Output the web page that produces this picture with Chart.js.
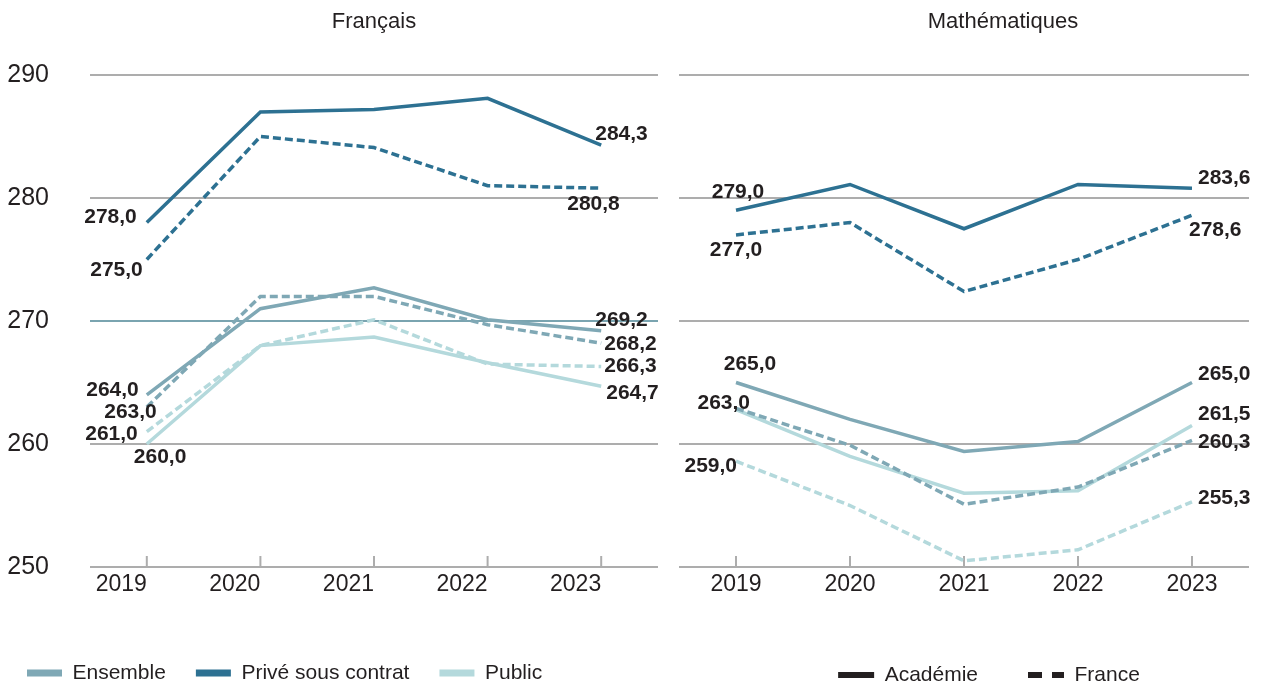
<!DOCTYPE html>
<html><head><meta charset="utf-8">
<script src="https://cdn.jsdelivr.net/npm/chart.js@4.4.1/dist/chart.umd.min.js"></script>
<style>
html,body{margin:0;padding:0;background:#fff;overflow:hidden;}
#wrap{position:relative;width:1263px;height:688px;}
#b1{position:absolute;left:0;top:0;width:660px;height:688px;}
#b2{position:absolute;left:660px;top:0;width:603px;height:688px;}
</style></head><body>
<div id="wrap"><div id="b1"><canvas id="c1"></canvas></div><div id="b2"><canvas id="c2"></canvas></div></div>
<script>
// ---- data ----
const years = ['2019', '2020', '2021', '2022', '2023'];
const panelTitles = ['Français', 'Mathématiques'];
const seriesNames = ['Ensemble', 'Privé sous contrat', 'Public'];
const levelNames = ['Académie', 'France'];

// Français
const frEnsembleAcad   = [264.0, 271.0, 272.7, 270.1, 269.2];
const frEnsembleFrance = [263.0, 272.0, 272.0, 269.7, 268.2];
const frPriveAcad      = [278.0, 287.0, 287.2, 288.1, 284.3];
const frPriveFrance    = [275.0, 285.0, 284.1, 281.0, 280.8];
const frPublicAcad     = [260.0, 268.0, 268.7, 266.6, 264.7];
const frPublicFrance   = [261.0, 268.0, 270.1, 266.5, 266.3];
// Mathématiques
const maEnsembleAcad   = [265.0, 262.0, 259.4, 260.2, 265.0];
const maEnsembleFrance = [262.9, 259.9, 255.1, 256.5, 260.3];
const maPriveAcad      = [279.0, 281.1, 277.5, 281.1, 280.8];
const maPriveFrance    = [277.0, 278.0, 272.4, 275.0, 278.6];
const maPublicAcad     = [262.8, 259.0, 256.0, 256.2, 261.5];
const maPublicFrance   = [258.6, 255.0, 250.5, 251.4, 255.3];

// value labels shown at first / last year
const frEnsembleAcadText   = ['264,0', '269,2'];
const frEnsembleFranceText = ['263,0', '268,2'];
const frPriveAcadText      = ['278,0', '284,3'];
const frPriveFranceText    = ['275,0', '280,8'];
const frPublicAcadText     = ['260,0', '264,7'];
const frPublicFranceText   = ['261,0', '266,3'];
const maEnsembleAcadText   = ['265,0', '265,0'];
const maEnsembleFranceText = ['263,0', '260,3'];
const maPriveAcadText      = ['279,0', '283,6'];
const maPriveFranceText    = ['277,0', '278,6'];
const maPublicAcadText     = [null, '261,5'];
const maPublicFranceText   = ['259,0', '255,3'];

// ---- styles ----
const FONT = '"Liberation Sans", Arial, sans-serif';
const TEXT = '#231f20';
const GRID = '#adadad';
const GRID_HI = '#7aa4b0';
const colEnsemble = '#7fa8b5';
const colPrive = '#2d7192';
const colPublic = '#b4d9dc';
const seriesColors = [colEnsemble, colPrive, colPublic];
const DASH = [8, 4];
Chart.defaults.font.family = FONT;
Chart.defaults.color = TEXT;

function ds(label, data, color, dashed, texts) {
  return { label, data, borderColor: color, backgroundColor: color, borderWidth: 3.5,
    borderDash: dashed ? DASH : [], borderCapStyle: 'butt', pointRadius: 0, tension: 0,
    fill: false, endTexts: texts };
}

const valueLabels = {
  id: 'valueLabels',
  afterDatasetsDraw(chart, args, opts) {
    const ctx = chart.ctx;
    ctx.save();
    ctx.font = 'bold 21px ' + FONT;
    ctx.fillStyle = TEXT;
    ctx.textBaseline = 'middle';
    chart.data.datasets.forEach((d, di) => {
      const meta = chart.getDatasetMeta(di);
      const idx = [0, meta.data.length - 1];
      idx.forEach((pi, k) => {
        const t = d.endTexts[k];
        const l = opts.place[di][k];
        if (!t || !l) return;
        const p = meta.data[pi];
        ctx.textAlign = l[0];
        ctx.fillText(t, p.x + l[1], p.y + l[2]);
      });
    });
    ctx.restore();
  }
};

const xTickMarks = {
  id: 'xTickMarks',
  beforeDatasetsDraw(chart) {
    const sx = chart.scales.x, a = chart.chartArea, ctx = chart.ctx;
    ctx.save();
    ctx.strokeStyle = GRID; ctx.lineWidth = 2;
    sx.ticks.forEach((t, i) => {
      const px = sx.getPixelForTick(i);
      ctx.beginPath(); ctx.moveTo(px, a.bottom); ctx.lineTo(px, a.bottom - 11); ctx.stroke();
    });
    ctx.restore();
  }
};

const panelTitle = {
  id: 'panelTitle',
  afterLayout(chart, args, opts) {
    if (opts.legendDx && chart.legend) { chart.legend.left += opts.legendDx; chart.legend.right += opts.legendDx; }
  },
  afterDraw(chart, args, opts) {
    const a = chart.chartArea, ctx = chart.ctx;
    ctx.save();
    ctx.font = '22px ' + FONT; ctx.fillStyle = TEXT;
    ctx.textAlign = 'center'; ctx.textBaseline = 'middle';
    ctx.fillText(opts.text, (a.left + a.right) / 2 + opts.dx, opts.y);
    ctx.restore();
  }
};

function makeChart(id, datasets, cfg) {
  return new Chart(document.getElementById(id), {
    type: 'line',
    data: { labels: years, datasets },
    plugins: [valueLabels, xTickMarks, panelTitle],
    options: {
      responsive: true, maintainAspectRatio: false, animation: false, events: [],
      layout: { padding: cfg.padding },
      scales: {
        x: {
          offset: true,
          grid: { display: false, drawTicks: false },
          border: { display: false },
          ticks: { font: { size: 23 }, color: TEXT, padding: 4, align: cfg.xAlign, maxRotation: 0 },
          afterFit: s => { s.height = cfg.xHeight; }
        },
        y: {
          min: 250, max: 290,
          border: { display: false },
          grid: { color: cfg.gridColor, lineWidth: 2, drawTicks: false },
          ticks: { stepSize: 10, display: cfg.yLabels, font: { size: 25 }, color: TEXT, padding: 41, crossAlign: 'near' },
          afterFit: s => { s.width = cfg.yWidth; }
        }
      },
      plugins: {
        tooltip: { enabled: false },
        legend: cfg.legend,
        valueLabels: { place: cfg.place },
        panelTitle: { text: cfg.title, dx: cfg.titleDx, y: 22, legendDx: cfg.legendDx }
      }
    }
  });
}

// Français
makeChart('c1', [
  ds('Ensemble Académie', frEnsembleAcad, colEnsemble, false, frEnsembleAcadText),
  ds('Ensemble France', frEnsembleFrance, colEnsemble, true, frEnsembleFranceText),
  ds('Privé Académie', frPriveAcad, colPrive, false, frPriveAcadText),
  ds('Privé France', frPriveFrance, colPrive, true, frPriveFranceText),
  ds('Public Académie', frPublicAcad, colPublic, false, frPublicAcadText),
  ds('Public France', frPublicFrance, colPublic, true, frPublicFranceText)
], {
  padding: { left: 0, right: 2, top: 75, bottom: -5.5 },
  xAlign: 'end', xHeight: 65.5, yWidth: 90, yLabels: true,
  gridColor: c => (c.tick && c.tick.value === 270) ? GRID_HI : GRID,
  title: panelTitles[0], titleDx: 0, legendDx: -3,
  legend: {
    position: 'bottom', align: 'start',
    labels: {
      boxWidth: 35, boxHeight: 7, padding: 30, color: TEXT, font: { size: 21 },
      generateLabels: () => seriesNames.map((n, i) => ({ text: n, fillStyle: seriesColors[i], strokeStyle: seriesColors[i], lineWidth: 0, hidden: false, fontColor: TEXT }))
    }
  },
  place: [
    [['right', -8, -5], ['left', -6, -11]],
    [['right', 10, 5], ['left', 3, 1]],
    [['right', -10, -5], ['left', -6, -11]],
    [['right', -4, 11], ['left', -34, 16]],
    [['left', -13, 13], ['left', 5, 7]],
    [['right', -9, 3], ['left', 3, 0]]
  ]
});

// Mathématiques
makeChart('c2', [
  ds('Ensemble Académie', maEnsembleAcad, colEnsemble, false, maEnsembleAcadText),
  ds('Ensemble France', maEnsembleFrance, colEnsemble, true, maEnsembleFranceText),
  ds('Privé Académie', maPriveAcad, colPrive, false, maPriveAcadText),
  ds('Privé France', maPriveFrance, colPrive, true, maPriveFranceText),
  ds('Public Académie', maPublicAcad, colPublic, false, maPublicAcadText),
  ds('Public France', maPublicFrance, colPublic, true, maPublicFranceText)
], {
  padding: { left: 19, right: 14, top: 75, bottom: -7.5 },
  xAlign: 'center', xHeight: 47.5, yWidth: 0, yLabels: false,
  gridColor: GRID,
  title: panelTitles[1], titleDx: 39, legendDx: 25,
  legend: {
    position: 'bottom', align: 'center',
    labels: {
      usePointStyle: true, pointStyleWidth: 36, boxHeight: 6, padding: 50, color: TEXT, font: { size: 21 },
      generateLabels: () => levelNames.map((n, i) => ({ text: n, fillStyle: TEXT, strokeStyle: TEXT, lineWidth: 6, pointStyle: 'line', lineDash: i === 1 ? [14, 10] : [], lineCap: 'butt', hidden: false, fontColor: TEXT }))
    }
  },
  place: [
    [['center', 14, -18], ['left', 6, -8]],
    [['right', 14, -5], ['left', 6, 2]],
    [['center', 2, -18], ['left', 6, -10]],
    [['center', 0, 15], ['left', -3, 15]],
    [null, ['left', 6, -11]],
    [['right', 1, 5], ['left', 6, -4]]
  ]
});
</script>
</body></html>
